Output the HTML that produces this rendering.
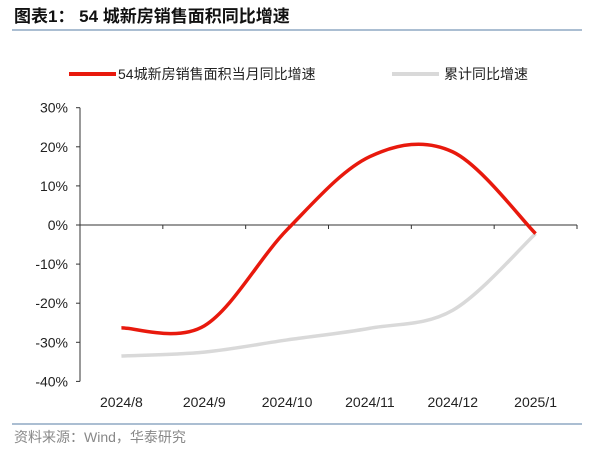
<!DOCTYPE html>
<html><head><meta charset="utf-8"><style>
body{margin:0;width:600px;height:453px;background:#fff;overflow:hidden;font-family:"Liberation Sans","Noto Sans CJK SC",sans-serif;}
</style></head><body>
<svg width="600" height="453" style="display:block">
<text x="14" y="22" font-size="17" font-weight="bold" fill="#111" font-family="Liberation Sans, Noto Sans CJK SC, sans-serif">图表1：  54 城新房销售面积同比增速</text>
<line x1="12" y1="30" x2="582" y2="30" stroke="#8fa8c4" stroke-width="1.5"/>
<g>
<line x1="69" y1="74" x2="116" y2="74" stroke="#e8190d" stroke-width="4"/>
<text x="118" y="79" font-size="14" fill="#222">54城新房销售面积当月同比增速</text>
<line x1="392" y1="74" x2="439" y2="74" stroke="#d9d9d9" stroke-width="4"/>
<text x="444" y="79" font-size="14" fill="#222">累计同比增速</text>
</g>
<g id="plot"></g>
<line x1="12" y1="424" x2="582" y2="424" stroke="#8fa8c4" stroke-width="1.5"/>
<text x="14" y="442" font-size="14" fill="#888">资料来源：Wind，华泰研究</text>
</svg>
<script>
const categories=["2024/8","2024/9","2024/10","2024/11","2024/12","2025/1"];
const monthly=[-26.3,-25.8,-1.2,17.5,18.7,-2.2];
const cumulative=[-33.5,-32.5,-29.4,-26.4,-21.8,-2.2];
const yTicks=[30,20,10,0,-10,-20,-30,-40];
const NS="http://www.w3.org/2000/svg";
const g=document.getElementById('plot');
const x0=80,x1=577,yZero=225,pxPer=3.91;
const step=(x1-x0)/categories.length;
function xs(i){return x0+step*(i+0.5);}
function ys(v){return yZero-v*pxPer;}
function mk(t,a){const e=document.createElementNS(NS,t);for(const k in a)e.setAttribute(k,a[k]);g.appendChild(e);return e;}
let e=mk('line',{x1:x0,y1:ys(30),x2:x0,y2:ys(-40),stroke:'#333','stroke-width':1});


yTicks.forEach(v=>{
 let t=mk('line',{x1:x0-4,y1:ys(v),x2:x0,y2:ys(v),stroke:'#333'});
 
 
 let l=mk('text',{x:x0-12,y:ys(v)+5,'text-anchor':'end','font-size':14,fill:'#222'});
 l.textContent=v+'%';
 
 
});
e=mk('line',{x1:x0,y1:yZero,x2:x1,y2:yZero,stroke:'#333'});


categories.forEach((c,i)=>{
 let t=mk('line',{x1:x0+step*(i+1),y1:yZero,x2:x0+step*(i+1),y2:yZero+4,stroke:'#333'});
 
 
 let l=mk('text',{x:xs(i),y:407,'text-anchor':'middle','font-size':14,fill:'#222'});
 l.textContent=c;
 
 
});
function smooth(vals){
 const p=vals.map((v,i)=>[xs(i),ys(v)]);
 let d='M'+p[0][0]+','+p[0][1];
 for(let i=0;i<p.length-1;i++){
  const a=p[i-1]||p[i],b=p[i],c=p[i+1],n=p[i+2]||c;
  const c1=[b[0]+(c[0]-a[0])/6,b[1]+(c[1]-a[1])/6];
  const c2=[c[0]-(n[0]-b[0])/6,c[1]-(n[1]-b[1])/6];
  d+=` C${c1[0]},${c1[1]} ${c2[0]},${c2[1]} ${c[0]},${c[1]}`;
 }
 return d;
}
let s=mk('path',{d:smooth(cumulative),fill:'none',stroke:'#d9d9d9','stroke-width':3.5});


s=mk('path',{d:smooth(monthly),fill:'none',stroke:'#e8190d','stroke-width':3.5});


</script>
</body></html>
